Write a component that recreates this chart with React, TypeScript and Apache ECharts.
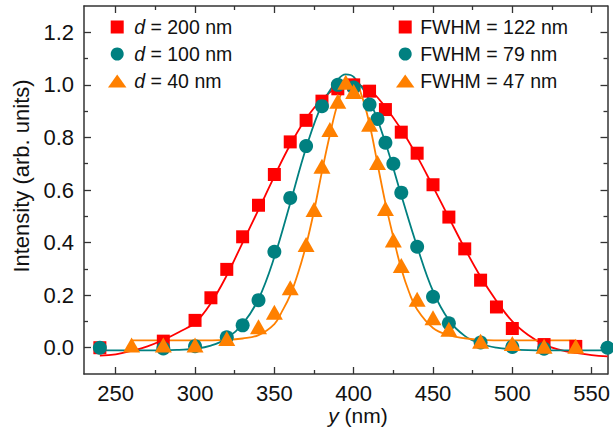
import React, { useEffect, useRef } from 'react';
import * as echarts from 'echarts';

const FONT = '"Liberation Sans", Arial, Helvetica, sans-serif';
const RED = '#ff0000';
const TEAL = '#008080';
const ORANGE = '#ff8000';
const AXIS = '#333333';
const TEXT = '#111111';

// Axis ticks
const xMajorTicks = [250, 300, 350, 400, 450, 500, 550];
const xMinorTicks = [275, 325, 375, 425, 475, 525];
const yMajorTicks = [0, 0.2, 0.4, 0.6, 0.8, 1.0, 1.2];
const yMinorTicks = [0.1, 0.3, 0.5, 0.7, 0.9, 1.1];

// Measured data points
const d200X = [240, 280, 300, 310, 320, 330, 340, 350, 360, 370, 380, 390, 400, 410, 420, 430, 440, 450, 460, 470, 480, 490, 500, 520, 540];
const d200Y = [0.0, 0.025, 0.104, 0.19, 0.298, 0.422, 0.542, 0.659, 0.783, 0.865, 0.938, 0.985, 1.0, 0.976, 0.906, 0.82, 0.74, 0.62, 0.497, 0.376, 0.257, 0.155, 0.073, 0.012, 0.005];

const d100X = [240, 280, 300, 320, 330, 340, 350, 360, 370, 380, 390, 400, 410, 415, 420, 425, 430, 440, 450, 460, 480, 500, 520, 560];
const d100Y = [0.0, -0.003, 0.006, 0.04, 0.085, 0.181, 0.365, 0.57, 0.767, 0.919, 1.0, 0.99, 0.925, 0.87, 0.78, 0.70, 0.59, 0.384, 0.194, 0.093, 0.02, 0.003, -0.004, 0.0];

const d40X = [260, 280, 300, 320, 340, 350, 360, 370, 375, 380, 385, 390, 395, 400, 410, 415, 420, 425, 430, 440, 450, 460, 480, 500, 520, 540];
const d40Y = [0.01, 0.01, 0.01, 0.035, 0.08, 0.135, 0.228, 0.393, 0.526, 0.69, 0.83, 0.938, 1.01, 0.975, 0.85, 0.705, 0.53, 0.41, 0.313, 0.184, 0.114, 0.07, 0.025, 0.016, 0.006, 0.006];

// Fitted curves
const fit122X = [240, 250, 260, 270, 280, 290, 300, 310, 320, 330, 340, 350, 360, 370, 380, 390, 400, 410, 420, 430, 440, 450, 460, 470, 480, 490, 500, 510, 520, 530, 540, 550, 560];
const fit122Y = [-0.03, -0.025, -0.012, 0.005, 0.03, 0.06, 0.095, 0.17, 0.275, 0.4, 0.525, 0.652, 0.772, 0.872, 0.945, 0.99, 1.0, 0.98, 0.915, 0.83, 0.728, 0.613, 0.495, 0.378, 0.27, 0.178, 0.1, 0.048, 0.012, -0.008, -0.02, -0.028, -0.033];

const fit79X = [240, 260, 280, 290, 300, 310, 320, 330, 340, 350, 360, 370, 380, 390, 395, 400, 410, 420, 430, 440, 450, 460, 470, 480, 490, 500, 510, 520, 540, 560];
const fit79Y = [-0.01, -0.01, -0.01, -0.008, -0.004, 0.008, 0.035, 0.09, 0.185, 0.345, 0.55, 0.76, 0.925, 1.02, 1.04, 1.03, 0.94, 0.78, 0.58, 0.385, 0.215, 0.105, 0.045, 0.015, 0.0, -0.006, -0.009, -0.01, -0.01, -0.01];

const fit47X = [260, 280, 300, 320, 330, 340, 350, 355, 360, 365, 370, 375, 380, 385, 390, 395, 400, 405, 410, 415, 420, 425, 430, 435, 440, 450, 460, 470, 480, 500, 520, 540];
const fit47Y = [0.028, 0.028, 0.028, 0.03, 0.035, 0.048, 0.09, 0.14, 0.2, 0.285, 0.39, 0.52, 0.67, 0.81, 0.93, 1.0, 1.02, 0.96, 0.85, 0.7, 0.55, 0.42, 0.3, 0.21, 0.145, 0.075, 0.048, 0.036, 0.03, 0.028, 0.028, 0.028];

const dataNames = ['d = 200 nm', 'd = 100 nm', 'd = 40 nm'];
const fitNames = ['FWHM = 122 nm', 'FWHM = 79 nm', 'FWHM = 47 nm'];

const TRI = 'path://M8.5,0 L17,12 L0,12 Z';
const SQ = 'path://M0,0 L12,0 L12,12 L0,12 Z';

const zip = (xs: number[], ys: number[]) => xs.map((x, i) => [x, ys[i]]);

function xAxisDef(position: string, ticks: number[], len: number, labels: boolean, line: boolean) {
  return {
    type: 'value',
    position,
    min: 230,
    max: 560,
    gridIndex: 0,
    splitLine: { show: false },
    axisLine: { show: line, onZero: false, lineStyle: { color: AXIS, width: 1.5 } },
    axisTick: { show: true, inside: true, length: len, customValues: ticks, lineStyle: { color: AXIS, width: 1.3 } },
    axisLabel: {
      show: labels,
      customValues: xMajorTicks,
      margin: 8,
      color: TEXT,
      fontSize: 22,
      fontFamily: FONT,
      formatter: (v: number) => String(Math.round(v)),
    },
  };
}

function yAxisDef(position: string, ticks: number[], len: number, labels: boolean, line: boolean) {
  return {
    type: 'value',
    position,
    min: -0.1,
    max: 1.3,
    gridIndex: 0,
    splitLine: { show: false },
    axisLine: { show: line, onZero: false, lineStyle: { color: AXIS, width: 1.5 } },
    axisTick: { show: true, inside: true, length: len, customValues: ticks, lineStyle: { color: AXIS, width: 1.3 } },
    axisLabel: {
      show: labels,
      customValues: yMajorTicks,
      margin: 10,
      color: TEXT,
      fontSize: 22,
      fontFamily: FONT,
      formatter: (v: number) => v.toFixed(1),
    },
  };
}

export default function App() {
  const ref = useRef<HTMLDivElement>(null);

  useEffect(() => {
    document.body.style.margin = '0';
    if (!ref.current) return;
    const chart = echarts.init(ref.current, null, { renderer: 'svg' });

    const legendText = {
      color: TEXT,
      fontSize: 19.5,
      fontFamily: FONT,
      lineHeight: 20,
      rich: {
        i: { fontStyle: 'italic', fontSize: 19.5, fontFamily: FONT, color: TEXT, lineHeight: 20 },
      },
    };

    const option: any = {
      animation: false,
      backgroundColor: '#ffffff',
      grid: { left: 84, right: 3, top: 6, bottom: 63, containLabel: false },
      xAxis: [
        xAxisDef('bottom', xMajorTicks, 7, true, true),
        xAxisDef('bottom', xMinorTicks, 4, false, false),
        xAxisDef('top', xMajorTicks, 7, false, true),
        xAxisDef('top', xMinorTicks, 4, false, false),
      ],
      yAxis: [
        yAxisDef('left', yMajorTicks, 7, true, true),
        yAxisDef('left', yMinorTicks, 4, false, false),
        yAxisDef('right', yMajorTicks, 7, false, true),
        yAxisDef('right', yMinorTicks, 4, false, false),
      ],
      legend: [
        {
          orient: 'vertical',
          left: 108,
          top: 17,
          padding: 0,
          itemWidth: 24,
          itemHeight: 13,
          itemGap: 7,
          selectedMode: false,
          symbolKeepAspect: true,
          textStyle: legendText,
          formatter: (name: string) => '{i|d}' + name.slice(1),
          data: [
            { name: dataNames[0], icon: SQ },
            { name: dataNames[1], icon: 'circle' },
            { name: dataNames[2], icon: TRI },
          ],
        },
        {
          orient: 'vertical',
          left: 396,
          top: 17,
          padding: 0,
          itemWidth: 20,
          itemHeight: 13,
          itemGap: 7,
          selectedMode: false,
          symbolKeepAspect: true,
          textStyle: legendText,
          data: [
            { name: fitNames[0], icon: SQ, itemStyle: { color: RED } },
            { name: fitNames[1], icon: 'circle', itemStyle: { color: TEAL } },
            { name: fitNames[2], icon: TRI, itemStyle: { color: ORANGE } },
          ],
        },
      ],
      graphic: [
        {
          type: 'text',
          x: 21,
          y: 176,
          rotation: Math.PI / 2,
          style: {
            text: 'Intensity (arb. units)',
            fontSize: 22,
            fontFamily: FONT,
            fill: TEXT,
            align: 'center',
            verticalAlign: 'middle',
          },
        },
        {
          type: 'text',
          x: 358,
          y: 415,
          style: {
            text: '{i|y} (nm)',
            fontSize: 21,
            fontFamily: FONT,
            fill: TEXT,
            align: 'center',
            verticalAlign: 'middle',
            rich: { i: { fontStyle: 'italic', fontSize: 21, fontFamily: FONT, fill: TEXT } },
          },
        },
      ],
      series: [
        {
          type: 'line', name: fitNames[0], data: zip(fit122X, fit122Y), showSymbol: false, symbol: 'none',
          smooth: 0.4, lineStyle: { color: RED, width: 1.8 }, itemStyle: { color: RED }, z: 2,
        },
        {
          type: 'line', name: fitNames[1], data: zip(fit79X, fit79Y), showSymbol: false, symbol: 'none',
          smooth: 0.4, lineStyle: { color: TEAL, width: 1.8 }, itemStyle: { color: TEAL }, z: 2,
        },
        {
          type: 'line', name: fitNames[2], data: zip(fit47X, fit47Y), showSymbol: false, symbol: 'none',
          smooth: 0.4, lineStyle: { color: ORANGE, width: 1.8 }, itemStyle: { color: ORANGE }, z: 2,
        },
        {
          type: 'scatter', name: dataNames[0], data: zip(d200X, d200Y), symbol: 'rect', symbolSize: 13,
          itemStyle: { color: RED, opacity: 1 }, z: 3,
        },
        {
          type: 'scatter', name: dataNames[1], data: zip(d100X, d100Y), symbol: 'circle', symbolSize: 14,
          itemStyle: { color: TEAL, opacity: 1 }, z: 4,
        },
        {
          type: 'scatter', name: dataNames[2], data: zip(d40X, d40Y), symbol: 'triangle', symbolSize: [17, 15],
          itemStyle: { color: ORANGE, opacity: 1 }, z: 5,
        },
      ],
    };

    chart.setOption(option);
    return () => chart.dispose();
  }, []);

  return (
    <div
      ref={ref}
      style={{ position: 'absolute', left: 0, top: 0, width: 613, height: 437 }}
    />
  );
}
